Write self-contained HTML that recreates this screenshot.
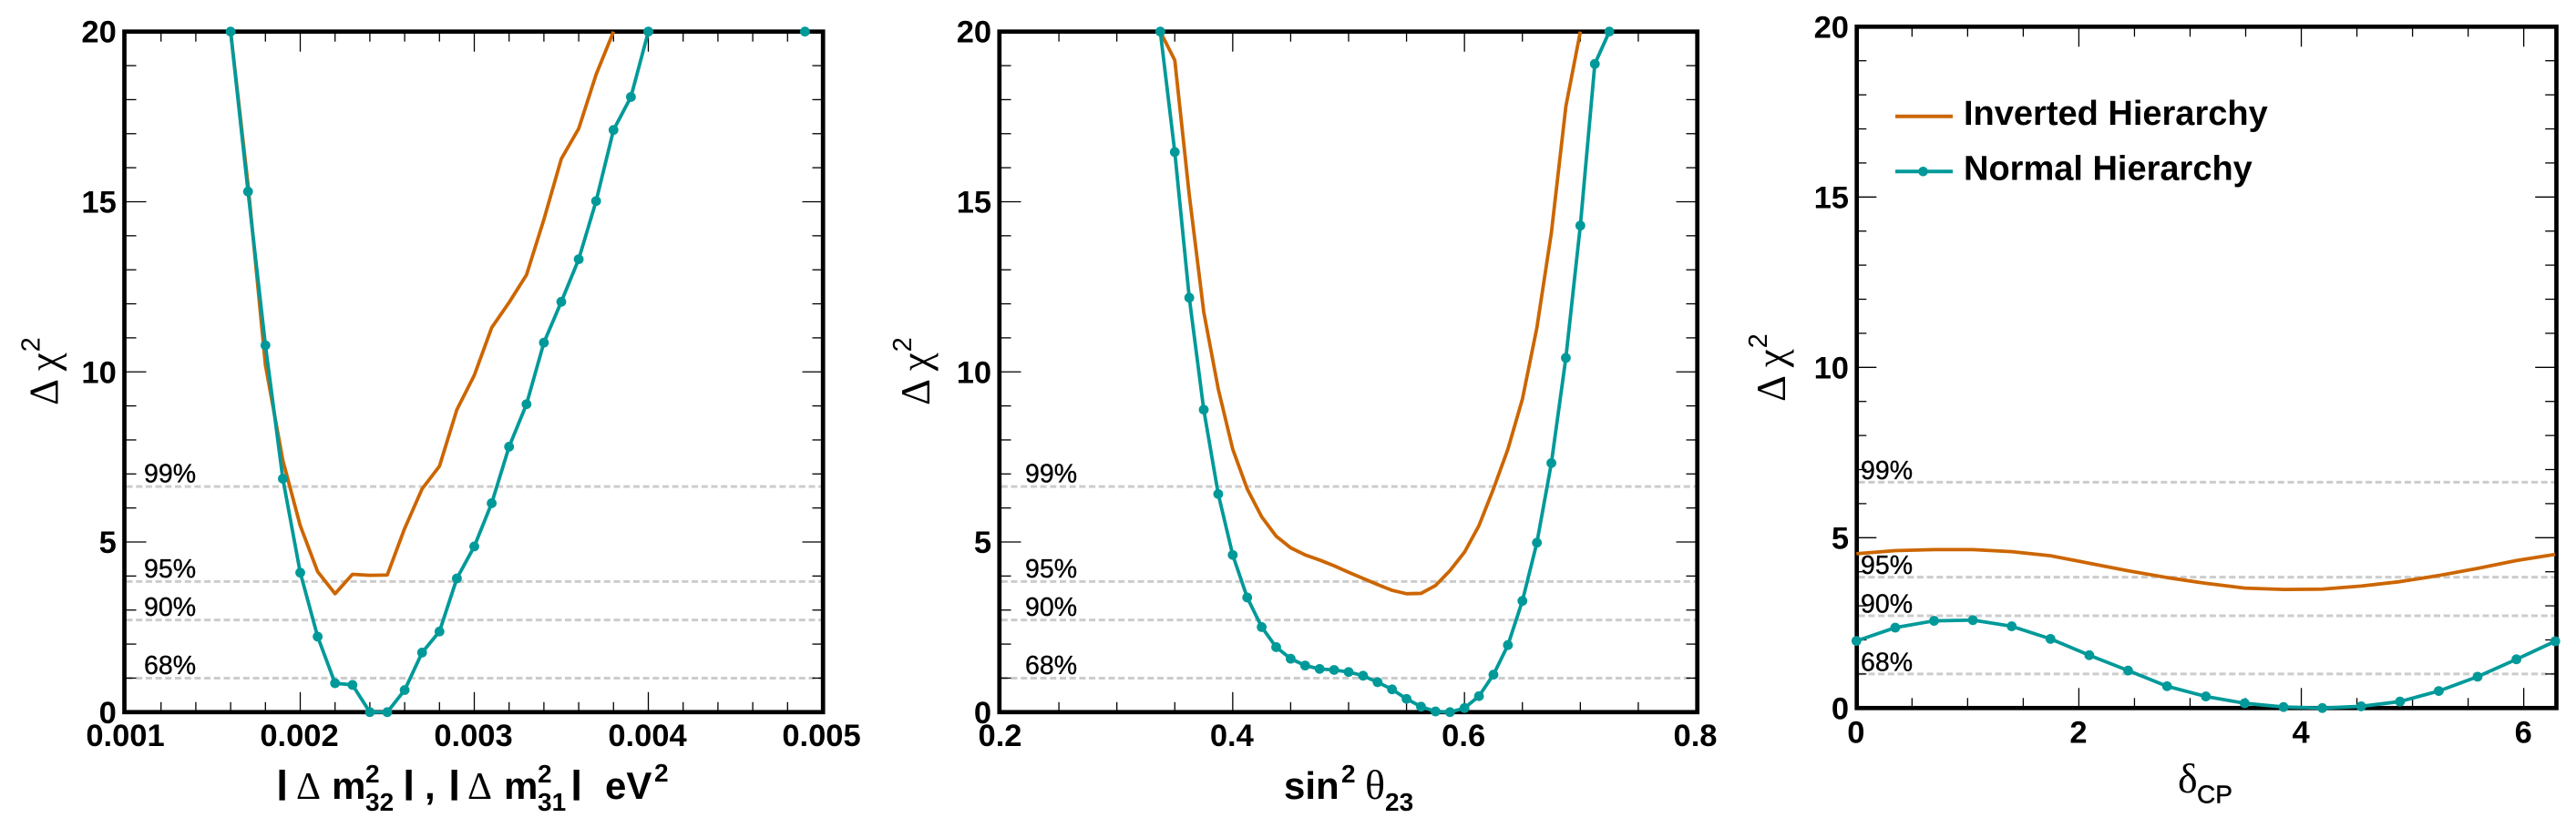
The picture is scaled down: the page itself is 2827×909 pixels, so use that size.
<!DOCTYPE html>
<html lang="en">
<head>
<meta charset="utf-8">
<title>Delta chi-squared vs oscillation parameters</title>
<style>
html,body{margin:0;padding:0;background:#fff;}
#chart{display:block;position:absolute;left:0;top:0;}
text{font-family:"Liberation Sans",sans-serif;fill:#000;}
.tick{font-weight:bold;font-size:34.5px;}
.cl{font-size:28.5px;stroke:#000;stroke-width:.35px;}
.sym{font-family:"Liberation Serif",serif;}
.t{font-weight:bold;font-size:42px;}
.s{font-weight:bold;font-size:28px;}
.leg{font-weight:bold;font-size:38px;}
</style>
</head>
<body>
<svg id="chart" xmlns="http://www.w3.org/2000/svg" width="2827" height="909" viewBox="0 0 2827 909">
<rect x="0" y="0" width="2827" height="909" fill="#fff"/>
<g id="panel-a"></g>
<g id="panel-b"></g>
<g id="panel-c"></g>

<g>
<text class="t" x="305" y="870" style="font-size:33px;stroke:#000;stroke-width:2px">|</text>
<text class="sym" x="325" y="877" style="font-size:42px">Δ</text>
<text class="t" x="364" y="877">m</text>
<text class="s" x="401" y="859">2</text>
<text class="s" x="401" y="890">32</text>
<text class="t" x="444" y="870" style="font-size:33px;stroke:#000;stroke-width:2px">|</text>
<text class="t" x="466" y="877">,</text>
<text class="t" x="494" y="870" style="font-size:33px;stroke:#000;stroke-width:2px">|</text>
<text class="sym" x="513" y="877" style="font-size:42px">Δ</text>
<text class="t" x="553" y="877">m</text>
<text class="s" x="590" y="859">2</text>
<text class="s" x="590" y="890">31</text>
<text class="t" x="628" y="870" style="font-size:33px;stroke:#000;stroke-width:2px">|</text>
<text class="t" x="664" y="877">eV</text>
<text class="s" x="718" y="858">2</text>
</g>
<g>
<text class="t" x="1409" y="877">sin</text>
<text class="s" x="1472" y="859">2</text>
<text class="sym" x="1498" y="877" style="font-size:46px">θ</text>
<text class="s" x="1520" y="890">23</text>
</g>
<g>
<text class="sym" x="2390" y="870" style="font-size:46px">δ</text>
<text x="2411" y="881.5" style="font-size:28px;stroke:#000;stroke-width:.5px">CP</text>
</g>

<g>
<line x1="2080" x2="2143" y1="127.7" y2="127.7" stroke="#cc6600" stroke-width="4"/>
<text class="leg" x="2155" y="137">Inverted Hierarchy</text>
<line x1="2080" x2="2143" y1="188.3" y2="188.3" stroke="#009999" stroke-width="4"/>
<circle cx="2110.5" cy="188.3" r="5.3" fill="#009999"/>
<text class="leg" x="2155" y="197.3">Normal Hierarchy</text>
</g>
</svg>

<script>
// ---- data ----
const massNormalX = [0.0016,0.0017,0.0018,0.0019,0.0020,0.0021,0.0022,0.0023,0.0024,0.0025,0.0026,0.0027,0.0028,0.0029,0.0030,0.0031,0.0032,0.0033,0.0034,0.0035,0.0036,0.0037,0.0038,0.0039,0.0040];
const massNormalChi2 = [20,15.3,10.78,6.86,4.1,2.22,0.85,0.8,0,0,0.65,1.75,2.37,3.93,4.87,6.14,7.8,9.05,10.86,12.06,13.31,15.02,17.11,18.08,20];
const massNormalStrayX = [0.0049];
const massNormalStrayChi2 = [20];
const massInvertedX = [0.0016,0.0017,0.0018,0.0019,0.0020,0.0021,0.0022,0.0023,0.0024,0.0025,0.0026,0.0027,0.0028,0.0029,0.0030,0.0031,0.0032,0.0033,0.0034,0.0035,0.0036,0.0037,0.0038];
const massInvertedChi2 = [20,15.5,10.2,7.4,5.48,4.13,3.48,4.05,4.02,4.03,5.4,6.56,7.23,8.89,9.9,11.3,12.04,12.85,14.48,16.26,17.15,18.74,20];

const angleNormalX = [0.3375,0.35,0.3625,0.375,0.3875,0.4,0.4125,0.425,0.4375,0.45,0.4625,0.475,0.4875,0.5,0.5125,0.525,0.5375,0.55,0.5625,0.575,0.5875,0.6,0.6125,0.625,0.6375,0.65,0.6625,0.675,0.6875,0.7,0.7125,0.725];
const angleNormalChi2 = [20,16.46,12.18,8.89,6.41,4.62,3.37,2.5,1.91,1.57,1.37,1.27,1.24,1.18,1.07,0.88,0.67,0.39,0.16,0.02,0,0.12,0.47,1.1,1.97,3.27,4.98,7.32,10.41,14.3,19.05,20];
const angleInvertedX = [0.3375,0.35,0.3625,0.375,0.3875,0.4,0.4125,0.425,0.4375,0.45,0.4625,0.475,0.4875,0.5,0.5125,0.525,0.5375,0.55,0.5625,0.575,0.5875,0.6,0.6125,0.625,0.6375,0.65,0.6625,0.675,0.6875,0.7];
const angleInvertedChi2 = [20,19.16,15.2,11.76,9.5,7.73,6.56,5.74,5.17,4.83,4.62,4.47,4.3,4.11,3.93,3.75,3.58,3.48,3.49,3.72,4.16,4.7,5.48,6.56,7.73,9.2,11.3,14.09,17.8,20];

const phaseX = [0,0.349,0.698,1.047,1.396,1.745,2.094,2.443,2.793,3.142,3.491,3.84,4.189,4.538,4.887,5.236,5.585,5.934,6.283];
const phaseNormalChi2 = [1.97,2.36,2.56,2.58,2.4,2.03,1.55,1.1,0.64,0.34,0.14,0.03,0,0.05,0.19,0.5,0.92,1.43,1.96];
const phaseInvertedChi2 = [4.53,4.62,4.65,4.65,4.59,4.47,4.25,4.03,3.83,3.66,3.52,3.48,3.49,3.58,3.71,3.89,4.1,4.33,4.51];

const confidenceLevels = [1,2.71,3.84,6.63];
const confidenceLabels = ['68%','90%','95%','99%'];
const yTickValues = [0,5,10,15,20];
const massTickLabels = ['0.001','0.002','0.003','0.004','0.005'];
const angleTickLabels = ['0.2','0.4','0.6','0.8'];
const phaseTickLabels = ['0','2','4','6'];

// ---- drawing ----
const NS = 'http://www.w3.org/2000/svg';
const ORANGE = '#cc6600', TEAL = '#009999';

function node(parent, tag, attrs, txt) {
  const el = document.createElementNS(NS, tag);
  for (const k in attrs) el.setAttribute(k, attrs[k]);
  if (txt !== undefined) el.textContent = txt;
  parent.appendChild(el);
  return el;
}

function drawPanel(cfg) {
  const root = document.getElementById(cfg.id);
  const sx = v => cfg.left + (v - cfg.xMin) / (cfg.xMax - cfg.xMin) * (cfg.right - cfg.left);
  const sy = v => cfg.bottom - v / 20 * (cfg.bottom - cfg.top);

  // confidence-level guides and labels
  confidenceLevels.forEach((level, i) => {
    const guide = node(root, 'line', {x1: cfg.frameLeft + 2, x2: cfg.frameRight - 2, y1: sy(level), y2: sy(level), stroke: '#cccccc', 'stroke-width': 3, 'stroke-dasharray': '7 3.7'});
    
    
    const lab = node(root, 'text', {x: cfg.clX, y: sy(level) - cfg.clOffset, class: 'cl'}, confidenceLabels[i]);
    
    
  });

  // y ticks: minor every 1, major every 5, mirrored on the right
  for (let v = 1; v < 20; v++) {
    const len = v % 5 === 0 ? 22 : 11;
    const a = node(root, 'line', {x1: cfg.left, x2: cfg.left + len, y1: sy(v), y2: sy(v), stroke: '#000', 'stroke-width': 1.3});
    
    
    const b = node(root, 'line', {x1: cfg.right, x2: cfg.right - len, y1: sy(v), y2: sy(v), stroke: '#000', 'stroke-width': 1.3});
    
    
  }
  // x ticks
  for (let k = 1; ; k++) {
    const v = cfg.xMin + k * cfg.xMinor;
    if (v >= cfg.xMax - cfg.xMinor * 0.2) break;
    const len = k % cfg.perMajor === 0 ? 22 : 11;
    const a = node(root, 'line', {x1: sx(v), x2: sx(v), y1: cfg.bottom, y2: cfg.bottom - len, stroke: '#000', 'stroke-width': 1.3});
    
    
    const b = node(root, 'line', {x1: sx(v), x2: sx(v), y1: cfg.top, y2: cfg.top + len, stroke: '#000', 'stroke-width': 1.3});
    
    
  }

  const frame = node(root, 'rect', {x: cfg.frameLeft, y: cfg.top, width: cfg.frameRight - cfg.frameLeft, height: cfg.bottom - cfg.top, fill: 'none', stroke: '#000', 'stroke-width': 4.7});
  
  

  // tick labels
  yTickValues.forEach(v => {
    const t = node(root, 'text', {x: cfg.frameLeft - 8.7, y: sy(v) + 12, class: 'tick', 'text-anchor': 'end'}, String(v));
    
    
  });
  cfg.xLabels.forEach(s => {
    const t = node(root, 'text', {x: sx(parseFloat(s)) + cfg.labelShift, y: cfg.xLabelY, class: 'tick', 'text-anchor': 'middle'}, s);
    
    
  });

  // y axis title
  const yt = node(root, 'text', {transform: 'translate(' + cfg.yTitleX + ',' + cfg.yTitleY + ') rotate(-90)'});
  
  
  node(yt, 'tspan', {class: 'sym', style: 'font-size:45px'}, 'Δ χ');
  node(yt, 'tspan', {dy: -20, dx: 1, style: 'font-size:29px'}, '2');

  // series
  const ptsOf = (xs, ys) => xs.map((x, i) => sx(x).toFixed(2) + ',' + sy(ys[i]).toFixed(2)).join(' ');
  const inv = node(root, 'polyline', {points: ptsOf(cfg.invX, cfg.invY), fill: 'none', stroke: ORANGE, 'stroke-width': 3.8, 'stroke-linejoin': 'round'});
  
  
  const nor = node(root, 'polyline', {points: ptsOf(cfg.norX, cfg.norY), fill: 'none', stroke: TEAL, 'stroke-width': 3.8, 'stroke-linejoin': 'round'});
  
  
  cfg.norX.forEach((x, i) => {
    const c = node(root, 'circle', {cx: sx(x), cy: sy(cfg.norY[i]), r: 5.4, fill: TEAL});
    
    
  });
  (cfg.extraX || []).forEach((x, i) => {
    const c = node(root, 'circle', {cx: sx(x), cy: sy(cfg.extraY[i]), r: 5.4, fill: TEAL});
    
    
  });
}

drawPanel({id: 'panel-a', left: 138.5, right: 902.5, frameLeft: 136.5, frameRight: 903.2, top: 34.7, bottom: 781.8, xMin: 0.001, xMax: 0.005, xMinor: 0.0002, perMajor: 5,
  xLabels: massTickLabels, labelShift: -1, xLabelY: 819, clX: 158, clOffset: 4.5, yTitleX: 63.5, yTitleY: 445,
  norX: massNormalX, norY: massNormalChi2, invX: massInvertedX, invY: massInvertedChi2, extraX: massNormalStrayX, extraY: massNormalStrayChi2});
drawPanel({id: 'panel-b', left: 1098.5, right: 1861.5, frameLeft: 1096.8, frameRight: 1862.7, top: 34.7, bottom: 781.8, xMin: 0.2, xMax: 0.8, xMinor: 0.05, perMajor: 4,
  xLabels: angleTickLabels, labelShift: -1, xLabelY: 819, clX: 1125, clOffset: 4.5, yTitleX: 1020, yTitleY: 445,
  norX: angleNormalX, norY: angleNormalChi2, invX: angleInvertedX, invY: angleInvertedChi2});
drawPanel({id: 'panel-c', left: 2037.3, right: 2804.2, frameLeft: 2037.7, frameRight: 2805.5, top: 29.3, bottom: 777.3, xMin: 0, xMax: 6.283, xMinor: 0.5, perMajor: 4,
  xLabels: phaseTickLabels, labelShift: -0.5, xLabelY: 815.5, clX: 2042, clOffset: 3.5, yTitleX: 1959, yTitleY: 441,
  norX: phaseX, norY: phaseNormalChi2, invX: phaseX, invY: phaseInvertedChi2});
</script>
</body>
</html>
